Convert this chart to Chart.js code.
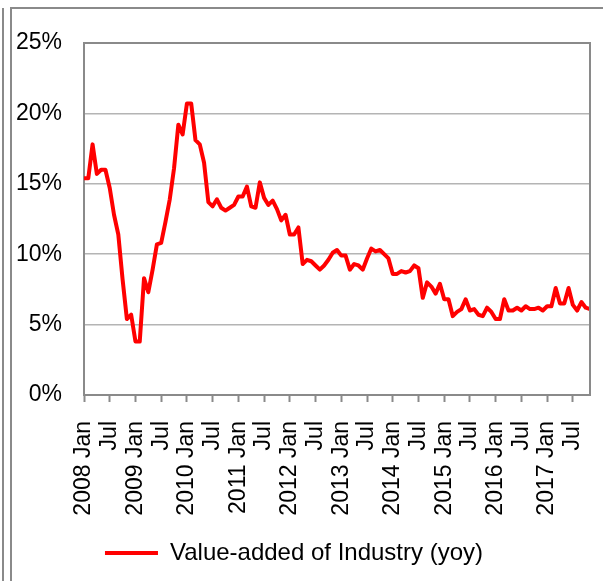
<!DOCTYPE html>
<html>
<head>
<meta charset="utf-8">
<script src="https://cdn.jsdelivr.net/npm/chart.js@4/dist/chart.umd.min.js"></script>
<style>
	html, body { margin: 0; padding: 0; background: #fff; }
	#wrap { position: relative; width: 603px; height: 581px; }
</style>
</head>
<body>
<div id="wrap"><canvas id="c" width="603" height="581"></canvas></div>
<script>
var years = ["2008", "2009", "2010", "2011", "2012", "2013", "2014", "2015", "2016", "2017"];
var monthNames = ["Jan", "Feb", "Mar", "Apr", "May", "Jun", "Jul", "Aug", "Sep", "Oct", "Nov", "Dec"];

// yoy %, Jan/Feb reported together
var ip2008 = [15.4, 15.4, 17.8, 15.7, 16.0, 16.0, 14.7, 12.8, 11.4, 8.2, 5.4, 5.7];
var ip2009 = [3.8, 3.8, 8.3, 7.3, 8.9, 10.7, 10.8, 12.3, 13.9, 16.1, 19.2, 18.5];
var ip2010 = [20.7, 20.7, 18.1, 17.8, 16.5, 13.7, 13.4, 13.9, 13.3, 13.1, 13.3, 13.5];
var ip2011 = [14.1, 14.1, 14.8, 13.4, 13.3, 15.1, 14.0, 13.5, 13.8, 13.2, 12.4, 12.8];
var ip2012 = [11.4, 11.4, 11.9, 9.3, 9.6, 9.5, 9.2, 8.9, 9.2, 9.6, 10.1, 10.3];
var ip2013 = [9.9, 9.9, 8.9, 9.3, 9.2, 8.9, 9.7, 10.4, 10.2, 10.3, 10.0, 9.7];
var ip2014 = [8.6, 8.6, 8.8, 8.7, 8.8, 9.2, 9.0, 6.9, 8.0, 7.7, 7.2, 7.9];
var ip2015 = [6.8, 6.8, 5.6, 5.9, 6.1, 6.8, 6.0, 6.1, 5.7, 5.6, 6.2, 5.9];
var ip2016 = [5.4, 5.4, 6.8, 6.0, 6.0, 6.2, 6.0, 6.3, 6.1, 6.1, 6.2, 6.0];
var ip2017 = [6.3, 6.3, 7.6, 6.5, 6.5, 7.6, 6.4, 6.0, 6.6, 6.2, 6.1];

var seriesName = "Value-added of Industry (yoy)";
var yTicks = [0, 5, 10, 15, 20, 25];

var values = [].concat(ip2008, ip2009, ip2010, ip2011, ip2012, ip2013, ip2014, ip2015, ip2016, ip2017);

// "2008 Jan", "Feb", ... one label per month
var categories = [];
for(var i = 0; i < values.length; i++) {
	var m = i % 12;
	categories.push(m == 0 ? years[Math.floor(i / 12)] + " " + monthNames[m] : monthNames[m]);
}

var FONT = "'Liberation Sans', Arial, sans-serif";
var AXIS_GRAY = "#8a8a8a";

// outer frame + plot border
var framePlugin = {
	id: "frame",
	beforeDraw: function(chart) {
		var ctx = chart.ctx;
		ctx.save();
		ctx.strokeStyle = AXIS_GRAY;
		ctx.lineWidth = 2;
		ctx.beginPath();
		ctx.moveTo(3, 8);
		ctx.lineTo(3, 581);
		ctx.moveTo(11, 581);
		ctx.lineTo(11, 8);
		ctx.lineTo(603, 8);
		ctx.stroke();
		ctx.restore();
	},
	afterDatasetsDraw: function(chart) {
		var a = chart.chartArea;
		var ctx = chart.ctx;
		ctx.save();
		ctx.strokeStyle = AXIS_GRAY;
		ctx.lineWidth = 2;
		ctx.beginPath();
		ctx.moveTo(a.left, a.top);
		ctx.lineTo(a.right, a.top);
		ctx.lineTo(a.right, a.bottom);
		ctx.stroke();
		ctx.restore();
	},
	afterLayout: function(chart) {
		// legend sits a little left of centre
		chart.legend.left -= 14;
	}
};

new Chart(document.getElementById("c").getContext("2d"), {
	type: "line",
	data: {
		labels: categories,
		datasets: [
			{
				label: seriesName,
				data: values,
				borderColor: "#ff0000",
				backgroundColor: "#ff0000",
				borderWidth: 4,
				borderJoinStyle: "round",
				pointRadius: 0,
				tension: 0
			}
		]
	},
	options: {
		responsive: false,
		animation: false,
		layout: {
			autoPadding: false,
			padding: { left: 12, right: 13, top: 43, bottom: 6 }
		},
		scales: {
			x: {
				type: "category",
				offset: false,
				grid: {
					drawOnChartArea: false,
					drawTicks: true,
					tickLength: 7,
					tickWidth: 2,
					tickColor: AXIS_GRAY
				},
				border: { color: AXIS_GRAY, width: 2 },
				ticks: {
					autoSkip: false,
					maxRotation: 90,
					minRotation: 90,
					padding: 19,
					color: "#000",
					font: { family: FONT, size: 23 },
					callback: function(value, index) {
						if(index % 6 != 0) {
							return null;
						}
						return categories[index];
					}
				},
				afterFit: function(scale) {
					scale.height = 136;
					scale.paddingLeft = 0;
					scale.paddingRight = 0;
				}
			},
			y: {
				min: yTicks[0],
				max: yTicks[yTicks.length - 1],
				grid: {
					color: "#b4b4b4",
					lineWidth: 1.5,
					drawTicks: false
				},
				border: { color: AXIS_GRAY, width: 2 },
				afterBuildTicks: function(scale) {
					scale.ticks = yTicks.map(function(v) { return { value: v }; });
				},
				ticks: {
					padding: 22,
					color: "#000",
					font: { family: FONT, size: 23 },
					callback: function(v) {
						return v + "%";
					}
				},
				afterFit: function(scale) {
					scale.width = 72;
				}
			}
		},
		plugins: {
			legend: {
				position: "bottom",
				labels: {
					boxWidth: 53,
					boxHeight: 4,
					padding: 10,
					color: "#000",
					font: { family: FONT, size: 24 },
					generateLabels: function(chart) {
						var items = Chart.defaults.plugins.legend.labels.generateLabels(chart);
						items.forEach(function(it) {
							it.lineWidth = 0;
							it.fillStyle = "#ff0000";
						});
						return items;
					}
				}
			},
			tooltip: { enabled: false }
		}
	},
	plugins: [framePlugin]
});
</script>
</body>
</html>
